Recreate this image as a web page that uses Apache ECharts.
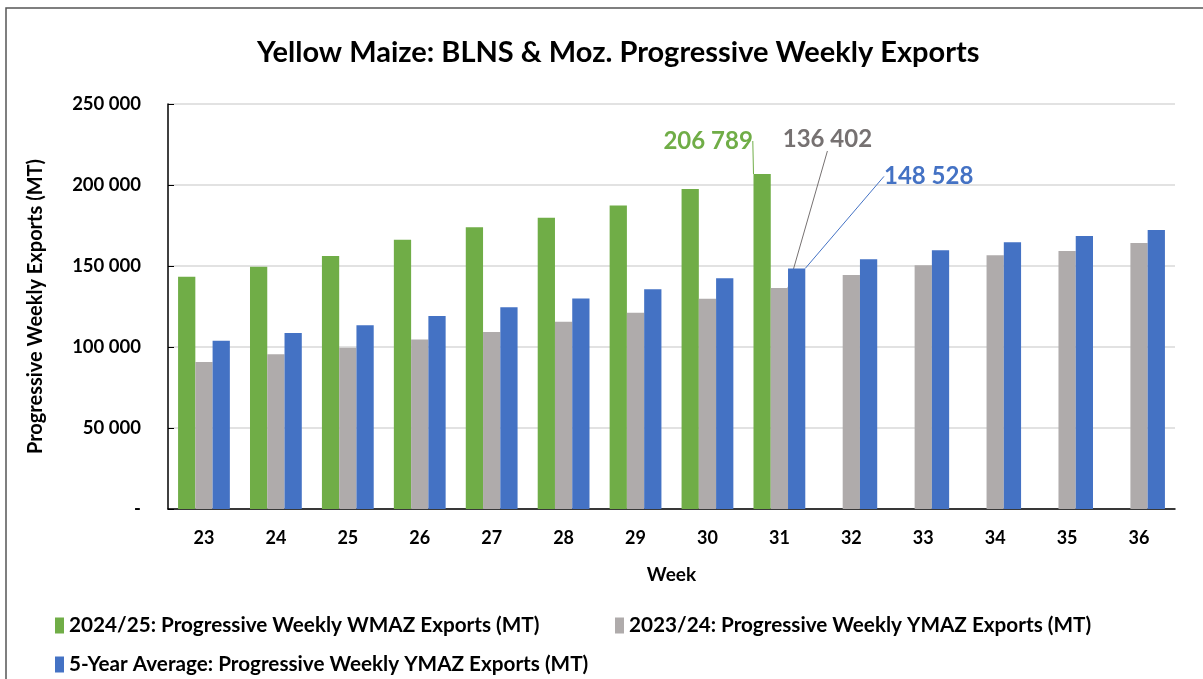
<!DOCTYPE html>
<html>
<head>
<meta charset="utf-8">
<script src="https://cdn.jsdelivr.net/npm/echarts@6/dist/echarts.min.js"></script>
<style>
html,body{margin:0;padding:0;background:#fff;}
#chart{width:1203px;height:679px;}
</style>
</head>
<body>
<div id="chart"></div>
<script>
var weeks = ['23','24','25','26','27','28','29','30','31','32','33','34','35','36'];
var exports2425 = [143400, 149600, 156200, 166200, 173900, 179800, 187400, 197500, 206789, null, null, null, null, null];
var exports2324 = [90700, 95500, 99600, 104700, 109300, 115600, 121200, 129800, 136402, 144400, 150400, 156600, 159300, 164200];
var fiveYearAvg = [103900, 108600, 113400, 119100, 124500, 130000, 135600, 142400, 148528, 154100, 159700, 164600, 168500, 172200];
var seriesNames = [
  '2024/25: Progressive Weekly WMAZ Exports (MT)',
  '2023/24: Progressive Weekly YMAZ Exports (MT)',
  '5-Year Average: Progressive Weekly YMAZ Exports (MT)'
];
var labelIndex = 8;

var FONT = 'Lato, "Open Sans", sans-serif';
function fmt(v){
  if (v === 0) return '-';
  return String(Math.round(v)).replace(/\B(?=(\d{3})+(?!\d))/g, ' ');
}
function withLabel(arr, color){
  return arr.map(function(v, i){
    if (i !== labelIndex || v == null) return v;
    return {
      value: v,
      label: {show: true, position: 'top', formatter: function(p){return fmt(p.value);},
              color: color, fontSize: 24, fontWeight: 'bold', fontFamily: FONT},
      labelLine: {show: true, lineStyle: {color: color, width: 1}}
    };
  });
}
function layoutFor(dx, dy){
  return function(p){ return p.dataIndex === labelIndex ? {dx: dx, dy: dy} : {}; };
}

var chart = echarts.init(document.getElementById('chart'));
var legendText = {color: '#000', fontSize: 20.7, fontWeight: 'bold', fontFamily: FONT};
chart.setOption({
  animation: false,
  title: {
    text: 'Yellow Maize: BLNS & Moz. Progressive Weekly Exports',
    left: 252, top: 33,
    textStyle: {fontSize: 29, fontWeight: 'bold', color: '#000', fontFamily: FONT}
  },
  graphic: [{
    type: 'rect', shape: {x: 6, y: 8, width: 1210, height: 700},
    style: {fill: 'none', stroke: '#555', lineWidth: 1.5}, silent: true
  }],
  legend: [
    {data: [seriesNames[0]], left: 50, top: 610, itemWidth: 9, itemHeight: 16, itemGap: 6, icon: 'rect', textStyle: legendText},
    {data: [seriesNames[1]], left: 610, top: 610, itemWidth: 9, itemHeight: 16, icon: 'rect', textStyle: legendText},
    {data: [seriesNames[2]], left: 50, top: 649, itemWidth: 9, itemHeight: 16, icon: 'rect', textStyle: legendText}
  ],
  grid: {left: 168, right: 28, top: 104, bottom: 170},
  xAxis: {
    type: 'category', data: weeks,
    name: 'Week', nameLocation: 'middle', nameGap: 56,
    nameTextStyle: {fontSize: 19, fontWeight: 'bold', color: '#000', fontFamily: FONT},
    axisLine: {lineStyle: {color: '#000', width: 1.5}},
    axisTick: {inside: true, length: 5, lineStyle: {color: '#000'}},
    axisLabel: {fontSize: 18, fontWeight: 'bold', color: '#000', margin: 20, fontFamily: FONT}
  },
  yAxis: {
    type: 'value', min: 0, max: 250000, interval: 50000,
    name: 'Progressive Weekly Exports (MT)', nameLocation: 'middle', nameGap: 122,
    nameTextStyle: {fontSize: 20, fontWeight: 'bold', color: '#000', fontFamily: FONT},
    axisLine: {show: true, lineStyle: {color: '#000', width: 1.5}},
    axisTick: {show: true, inside: true, length: 6, lineStyle: {color: '#000'}},
    axisLabel: {fontSize: 18.5, fontWeight: 'bold', color: '#000', margin: 27, formatter: fmt, fontFamily: FONT},
    splitLine: {lineStyle: {color: '#d9d9d9', width: 1.5}}
  },
  series: [
    {name: seriesNames[0], type: 'bar', data: withLabel(exports2425, '#70ad47'),
     itemStyle: {color: '#70ad47'}, barGap: '0%', barCategoryGap: '28%',
     labelLayout: layoutFor(-54, -16)},
    {name: seriesNames[1], type: 'bar', data: withLabel(exports2324, '#767171'),
     itemStyle: {color: '#afabab'}, barGap: '0%', barCategoryGap: '28%',
     labelLayout: layoutFor(48, -132)},
    {name: seriesNames[2], type: 'bar', data: withLabel(fiveYearAvg, '#4472c4'),
     itemStyle: {color: '#4472c4'}, barGap: '0%', barCategoryGap: '28%',
     labelLayout: layoutFor(132, -75)}
  ]
});
</script>
</body>
</html>
